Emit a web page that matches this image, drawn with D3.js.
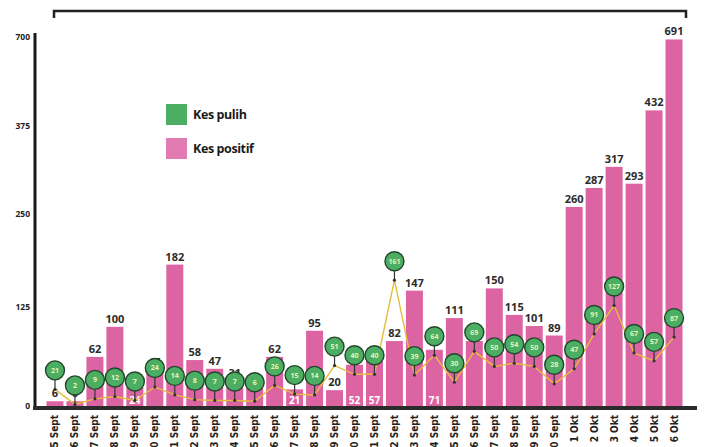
<!DOCTYPE html>
<html>
<head>
<meta charset="utf-8">
<script src="https://d3js.org/d3.v7.min.js"></script>
<style>
  body { margin: 0; background: #fff; }
  svg { display: block; }
  .ylab text { font: 700 8.5px "Open Sans", sans-serif; fill: #222; }
  .xlab text { font: 700 10px "Liberation Sans Narrow", "DejaVu Sans Condensed", sans-serif; fill: #222; }
</style>
</head>
<body>
<div id="chart"></div>
<script>
// Data
var dates = ["5 Sept", "6 Sept", "7 Sept", "8 Sept", "9 Sept", "10 Sept", "11 Sept", "12 Sept",
  "13 Sept", "14 Sept", "15 Sept", "16 Sept", "17 Sept", "18 Sept", "19 Sept", "20 Sept",
  "21 Sept", "22 Sept", "23 Sept", "24 Sept", "25 Sept", "26 Sept", "27 Sept", "28 Sept",
  "29 Sept", "30 Sept", "1 Okt", "2 Okt", "3 Okt", "4 Okt", "5 Okt", "6 Okt"];
var positif = [6, 6, 62, 100, 24, 45, 182, 58, 47, 31, 23, 62, 21, 95, 20, 52,
  57, 82, 147, 71, 111, 82, 150, 115, 101, 89, 260, 287, 317, 293, 432, 691];
var pulih = [21, 2, 9, 12, 7, 24, 14, 8, 7, 7, 6, 26, 15, 14, 51, 40,
  40, 161, 39, 64, 30, 69, 50, 54, 50, 28, 47, 91, 127, 67, 57, 87];
var yTicks = [0, 125, 250, 375, 700];
// days where the case count is written inside the bar
var labelInside = ["9 Sept", "17 Sept", "20 Sept", "21 Sept", "24 Sept"];

var W = 706, H = 447;
var pink = "#dc64a2", green = "#4cae62";

var svg = d3.select("#chart").append("svg")
  .attr("width", W).attr("height", H);

var x = d3.scaleBand()
  .domain(dates)
  .range([45, 684])
  .paddingInner(0.15)
  .paddingOuter(0.075);

// axis spacing in the print is not linear, so map each tick to its place
var y = d3.scaleLinear()
  .domain(yTicks)
  .range([406, 307, 214, 126, 37]);

// top bracket
svg.append("path")
  .attr("d", "M54,18V11H686V18")
  .attr("fill", "none")
  .attr("stroke", "#222")
  .attr("stroke-width", 2.5);

// bars
svg.append("g")
  .selectAll("rect")
  .data(positif)
  .enter().append("rect")
    .attr("x", function(d, i) { return x(dates[i]); })
    .attr("y", function(d) { return y(d); })
    .attr("width", x.bandwidth())
    .attr("height", function(d) { return y(0) - y(d); })
    .attr("fill", pink);

// bar values
svg.append("g")
  .selectAll("text")
  .data(positif)
  .enter().append("text")
    .attr("x", function(d, i) { return x(dates[i]) + x.bandwidth() / 2; })
    .attr("y", function(d, i) {
      return labelInside.indexOf(dates[i]) >= 0 ? y(0) - 2 : y(d) - 4;
    })
    .attr("text-anchor", "middle")
    .attr("font-family", "Open Sans, sans-serif")
    .attr("font-weight", 700)
    .attr("font-size", function(d, i) { return labelInside.indexOf(dates[i]) >= 0 ? 10 : 11; })
    .attr("fill", function(d, i) { return labelInside.indexOf(dates[i]) >= 0 ? "#fff" : "#2b2b2b"; })
    .text(function(d) { return d; });

// recovered line
var cx = function(d, i) { return x(dates[i]) + x.bandwidth() / 2; };
svg.append("path")
  .datum(pulih)
  .attr("fill", "none")
  .attr("stroke", "#e3bd3c")
  .attr("stroke-width", 1.4)
  .attr("d", d3.line().x(cx).y(function(d) { return y(d); }));

// pins
var pins = svg.append("g")
  .selectAll("g")
  .data(pulih)
  .enter().append("g")
    .attr("transform", function(d, i) { return "translate(" + cx(d, i) + "," + y(d) + ")"; });

pins.append("line")
  .attr("y1", 0).attr("y2", -18)
  .attr("stroke", "#333")
  .attr("stroke-width", 1.2);
pins.append("circle")
  .attr("r", 1.6)
  .attr("fill", "#333");
pins.append("circle")
  .attr("cy", -19)
  .attr("r", 9.5)
  .attr("fill", green)
  .attr("stroke", "#23452c")
  .attr("stroke-width", 1.4);
pins.append("text")
  .attr("y", -19)
  .attr("dy", "0.35em")
  .attr("text-anchor", "middle")
  .attr("font-family", "Open Sans, sans-serif")
  .attr("font-weight", 700)
  .attr("font-size", 7)
  .attr("fill", "#e6f5b8")
  .text(function(d) { return d; });

// y axis
var yAxis = svg.append("g")
  .attr("class", "ylab")
  .attr("transform", "translate(35,0)")
  .call(d3.axisLeft(y).tickValues(yTicks).tickSize(0).tickPadding(5));
yAxis.select(".domain").remove();
svg.append("line")
  .attr("x1", 35).attr("x2", 35)
  .attr("y1", 33).attr("y2", 410)
  .attr("stroke", "#1a1a1a")
  .attr("stroke-width", 3);

// x axis
var xAxis = svg.append("g")
  .attr("class", "xlab")
  .attr("transform", "translate(0,408)")
  .call(d3.axisBottom(x).tickSize(0));
xAxis.select(".domain").remove();
xAxis.selectAll("text")
  .attr("transform", "rotate(-90)")
  .attr("text-anchor", "end")
  .attr("x", -7)
  .attr("y", 0)
  .attr("dy", "0.35em");
svg.append("line")
  .attr("x1", 33).attr("x2", 697)
  .attr("y1", 408).attr("y2", 408)
  .attr("stroke", "#2b2b2b")
  .attr("stroke-width", 4);

// legend
var legend = svg.append("g")
  .selectAll("g")
  .data([["Kes pulih", green], ["Kes positif", "#e27bb2"]])
  .enter().append("g")
    .attr("transform", function(d, i) { return "translate(166," + (104 + i * 34) + ")"; });
legend.append("rect")
  .attr("width", 21).attr("height", 21)
  .attr("fill", function(d) { return d[1]; });
legend.append("text")
  .attr("x", 27).attr("y", 15)
  .attr("font-family", "Open Sans, sans-serif")
  .attr("font-weight", 700)
  .attr("font-size", 12.5)
  .attr("letter-spacing", -0.4)
  .attr("fill", "#1a1a1a")
  .text(function(d) { return d[0]; });
</script>
</body>
</html>
